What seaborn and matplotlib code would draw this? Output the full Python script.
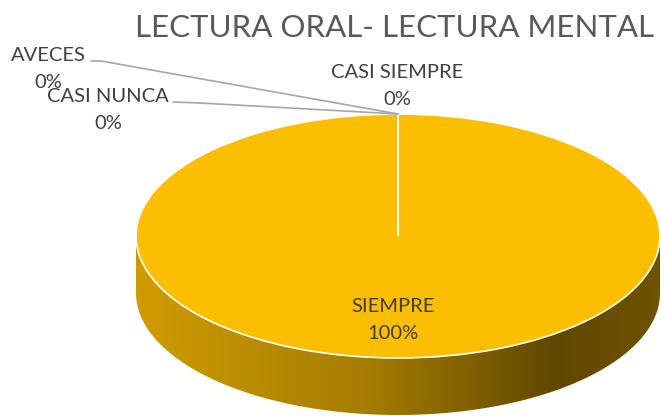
import numpy as np
import matplotlib
matplotlib.use("Agg")
import matplotlib.pyplot as plt
from matplotlib.colors import LinearSegmentedColormap
from matplotlib.patches import Polygon
import seaborn as sns

# data
categories = ["SIEMPRE", "CASI SIEMPRE", "AVECES", "CASI NUNCA"]
values = [100, 0, 0, 0]
title = "LECTURA ORAL- LECTURA MENTAL"

sns.set_theme(style="white")
plt.rcParams['font.family'] = ['Lato', 'DejaVu Sans']

W, H = 661, 416
fig = plt.figure(figsize=(W / 100, H / 100), dpi=100)
ax = fig.add_axes([0, 0, 1, 1])
ax.axis('off')

# ellipse geometry (pixels): centre, semi axes, depth of the side
cx, cy, rx, ry, depth = 398, 236, 262, 122, 57
xlim = ((0 - cx) / rx, (W - cx) / rx)
ylim = ((cy - H) / ry, cy / ry)
d = depth / ry

# side of the 3d pie with a gradient
t = np.linspace(np.pi, 2 * np.pi, 200)
top_rim = np.column_stack([np.cos(t), np.sin(t)])
bot_rim = np.column_stack([np.cos(t[::-1]), np.sin(t[::-1]) - d])
side = Polygon(np.vstack([top_rim, bot_rim]), closed=True, facecolor='none', edgecolor='none')
ax.add_patch(side)
cmap = LinearSegmentedColormap.from_list(
    "side", [(0, "#CF9C00"), (0.45, "#A47C00"), (0.8, "#604800"), (1, "#6E5300")])
grad = np.linspace(0, 1, 256).reshape(1, -1)
im = ax.imshow(grad, cmap=cmap, extent=[-1, 1, -1 - d, 0], aspect='auto', zorder=1)
im.set_clip_path(side)

# top face
wedges, _ = ax.pie(values, colors=["#FBBE00"] * len(values), startangle=90,
                   counterclock=False, radius=1, center=(0, 0),
                   wedgeprops=dict(edgecolor='white', linewidth=1.2), frame=False)
for w in wedges:
    w.set_zorder(2)
ax.set_xlim(*xlim)
ax.set_ylim(*ylim)
ax.set_aspect('auto')


def P(x, y):
    return x / W, 1 - y / H


total = sum(values)
label_pos = {
    "SIEMPRE": (393, 320),
    "CASI SIEMPRE": (397, 86),
    "AVECES": (48, 69),
    "CASI NUNCA": (108, 110),
}
for cat, v in zip(categories, values):
    x, y = label_pos[cat]
    fig.text(*P(x, y), f"{cat}\n{100 * v / total:.0f}%", ha='center', va='center',
             fontsize=14.5, color='#404040', linespacing=1.65, zorder=5)

# leader lines for the small slices
tip = fig.transFigure.inverted().transform(ax.transData.transform((0, 1)))
leaders = {"AVECES": [(91, 61), (101, 61)], "CASI NUNCA": [(173, 102), (200, 103)]}
for cat, pts in leaders.items():
    xs = [P(*p)[0] for p in pts] + [tip[0]]
    ys = [P(*p)[1] for p in pts] + [tip[1]]
    fig.add_artist(plt.Line2D(xs, ys, color='#A6A6A6', linewidth=1.2, zorder=4))

fig.text(*P(395, 28), title, ha='center', va='center', fontsize=22.5, color='#595959')

fig.savefig("out.png", dpi=100)
